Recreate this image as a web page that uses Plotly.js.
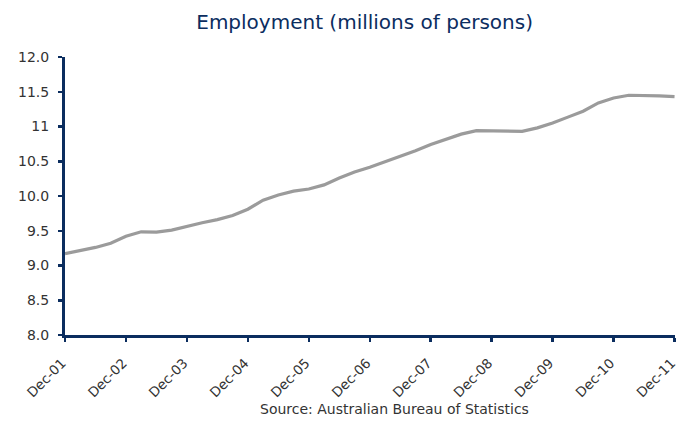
<!DOCTYPE html>
<html>
<head>
<meta charset="utf-8">
<script src="https://cdn.plot.ly/plotly-3.0.1.min.js"></script>
<style>html,body{margin:0;padding:0;background:#fff;}#chart{width:679px;height:439px;}</style>
</head>
<body>
<div id="chart"></div>
<script>
// Quarterly employment, Dec-01 .. Dec-11 (millions of persons)
const quarterIndex = [0,1,2,3,4,5,6,7,8,9,10,11,12,13,14,15,16,17,18,19,20,21,22,23,24,25,26,27,28,29,30,31,32,33,34,35,36,37,38,39,40];
const employment = [9.17,9.215,9.26,9.32,9.42,9.485,9.48,9.51,9.565,9.615,9.66,9.72,9.81,9.94,10.015,10.07,10.10,10.16,10.26,10.345,10.415,10.49,10.57,10.65,10.74,10.81,10.89,10.94,10.935,10.93,10.93,10.98,11.05,11.135,11.22,11.34,11.41,11.45,11.45,11.44,11.43];
const xTickVals = [0,4,8,12,16,20,24,28,32,36,40];
const xTickText = ["Dec-01","Dec-02","Dec-03","Dec-04","Dec-05","Dec-06","Dec-07","Dec-08","Dec-09","Dec-10","Dec-11"];
const yTickVals = [8.0,8.5,9.0,9.5,10.0,10.5,11.0,11.5,12.0];
const yTickText = ["8.0","8.5","9.0","9.5","10.0","10.5","11","11.5","12.0"];

const navy = "#0b2d5f";
const fam = "DejaVu Sans, Verdana, sans-serif";
const trace = {
  x: quarterIndex, y: employment, type: "scatter", mode: "lines",
  line: {color: "#9b9b9b", width: 3.2}, hoverinfo: "skip", cliponaxis: false
};
const layout = {
  width: 679, height: 439,
  margin: {l: 65, r: 4, t: 57, b: 104},
  paper_bgcolor: "#ffffff", plot_bgcolor: "#ffffff",
  showlegend: false,
  font: {family: fam, color: "#333333", size: 14},
  title: {text: "Employment (millions of persons)", x: 0.537, xanchor: "center", y: 0.95, yanchor: "middle",
          font: {family: fam, size: 20, color: navy}},
  xaxis: {
    range: [0, 40.03], tickmode: "array", tickvals: xTickVals, ticktext: xTickText,
    tickangle: -45, ticks: "outside", ticklen: 4, tickwidth: 2.5, tickcolor: navy,
    ticklabelstandoff: 8, ticklabelshift: -3, ticklabeloverflow: "allow",
    showline: true, linecolor: navy, linewidth: 3, showgrid: false, zeroline: false,
    automargin: false, fixedrange: true, tickfont: {family: fam, size: 13.5, color: "#333333"}
  },
  yaxis: {
    range: [8, 12], tickmode: "array", tickvals: yTickVals, ticktext: yTickText,
    ticks: "outside", ticklen: 4, tickwidth: 2.5, tickcolor: navy, ticklabelstandoff: 6,
    showline: true, linecolor: navy, linewidth: 3, showgrid: false, zeroline: false,
    automargin: false, fixedrange: true, tickfont: {family: fam, size: 14, color: "#333333"}
  },
  annotations: [{
    text: "Source: Australian Bureau of Statistics", xref: "paper", yref: "paper",
    x: 0.54, y: -0.265, xanchor: "center", yanchor: "middle", showarrow: false,
    font: {family: fam, size: 14, color: "#333333"}
  }]
};
Plotly.newPlot("chart", [trace], layout, {displayModeBar: false, staticPlot: true});
</script>
</body>
</html>
